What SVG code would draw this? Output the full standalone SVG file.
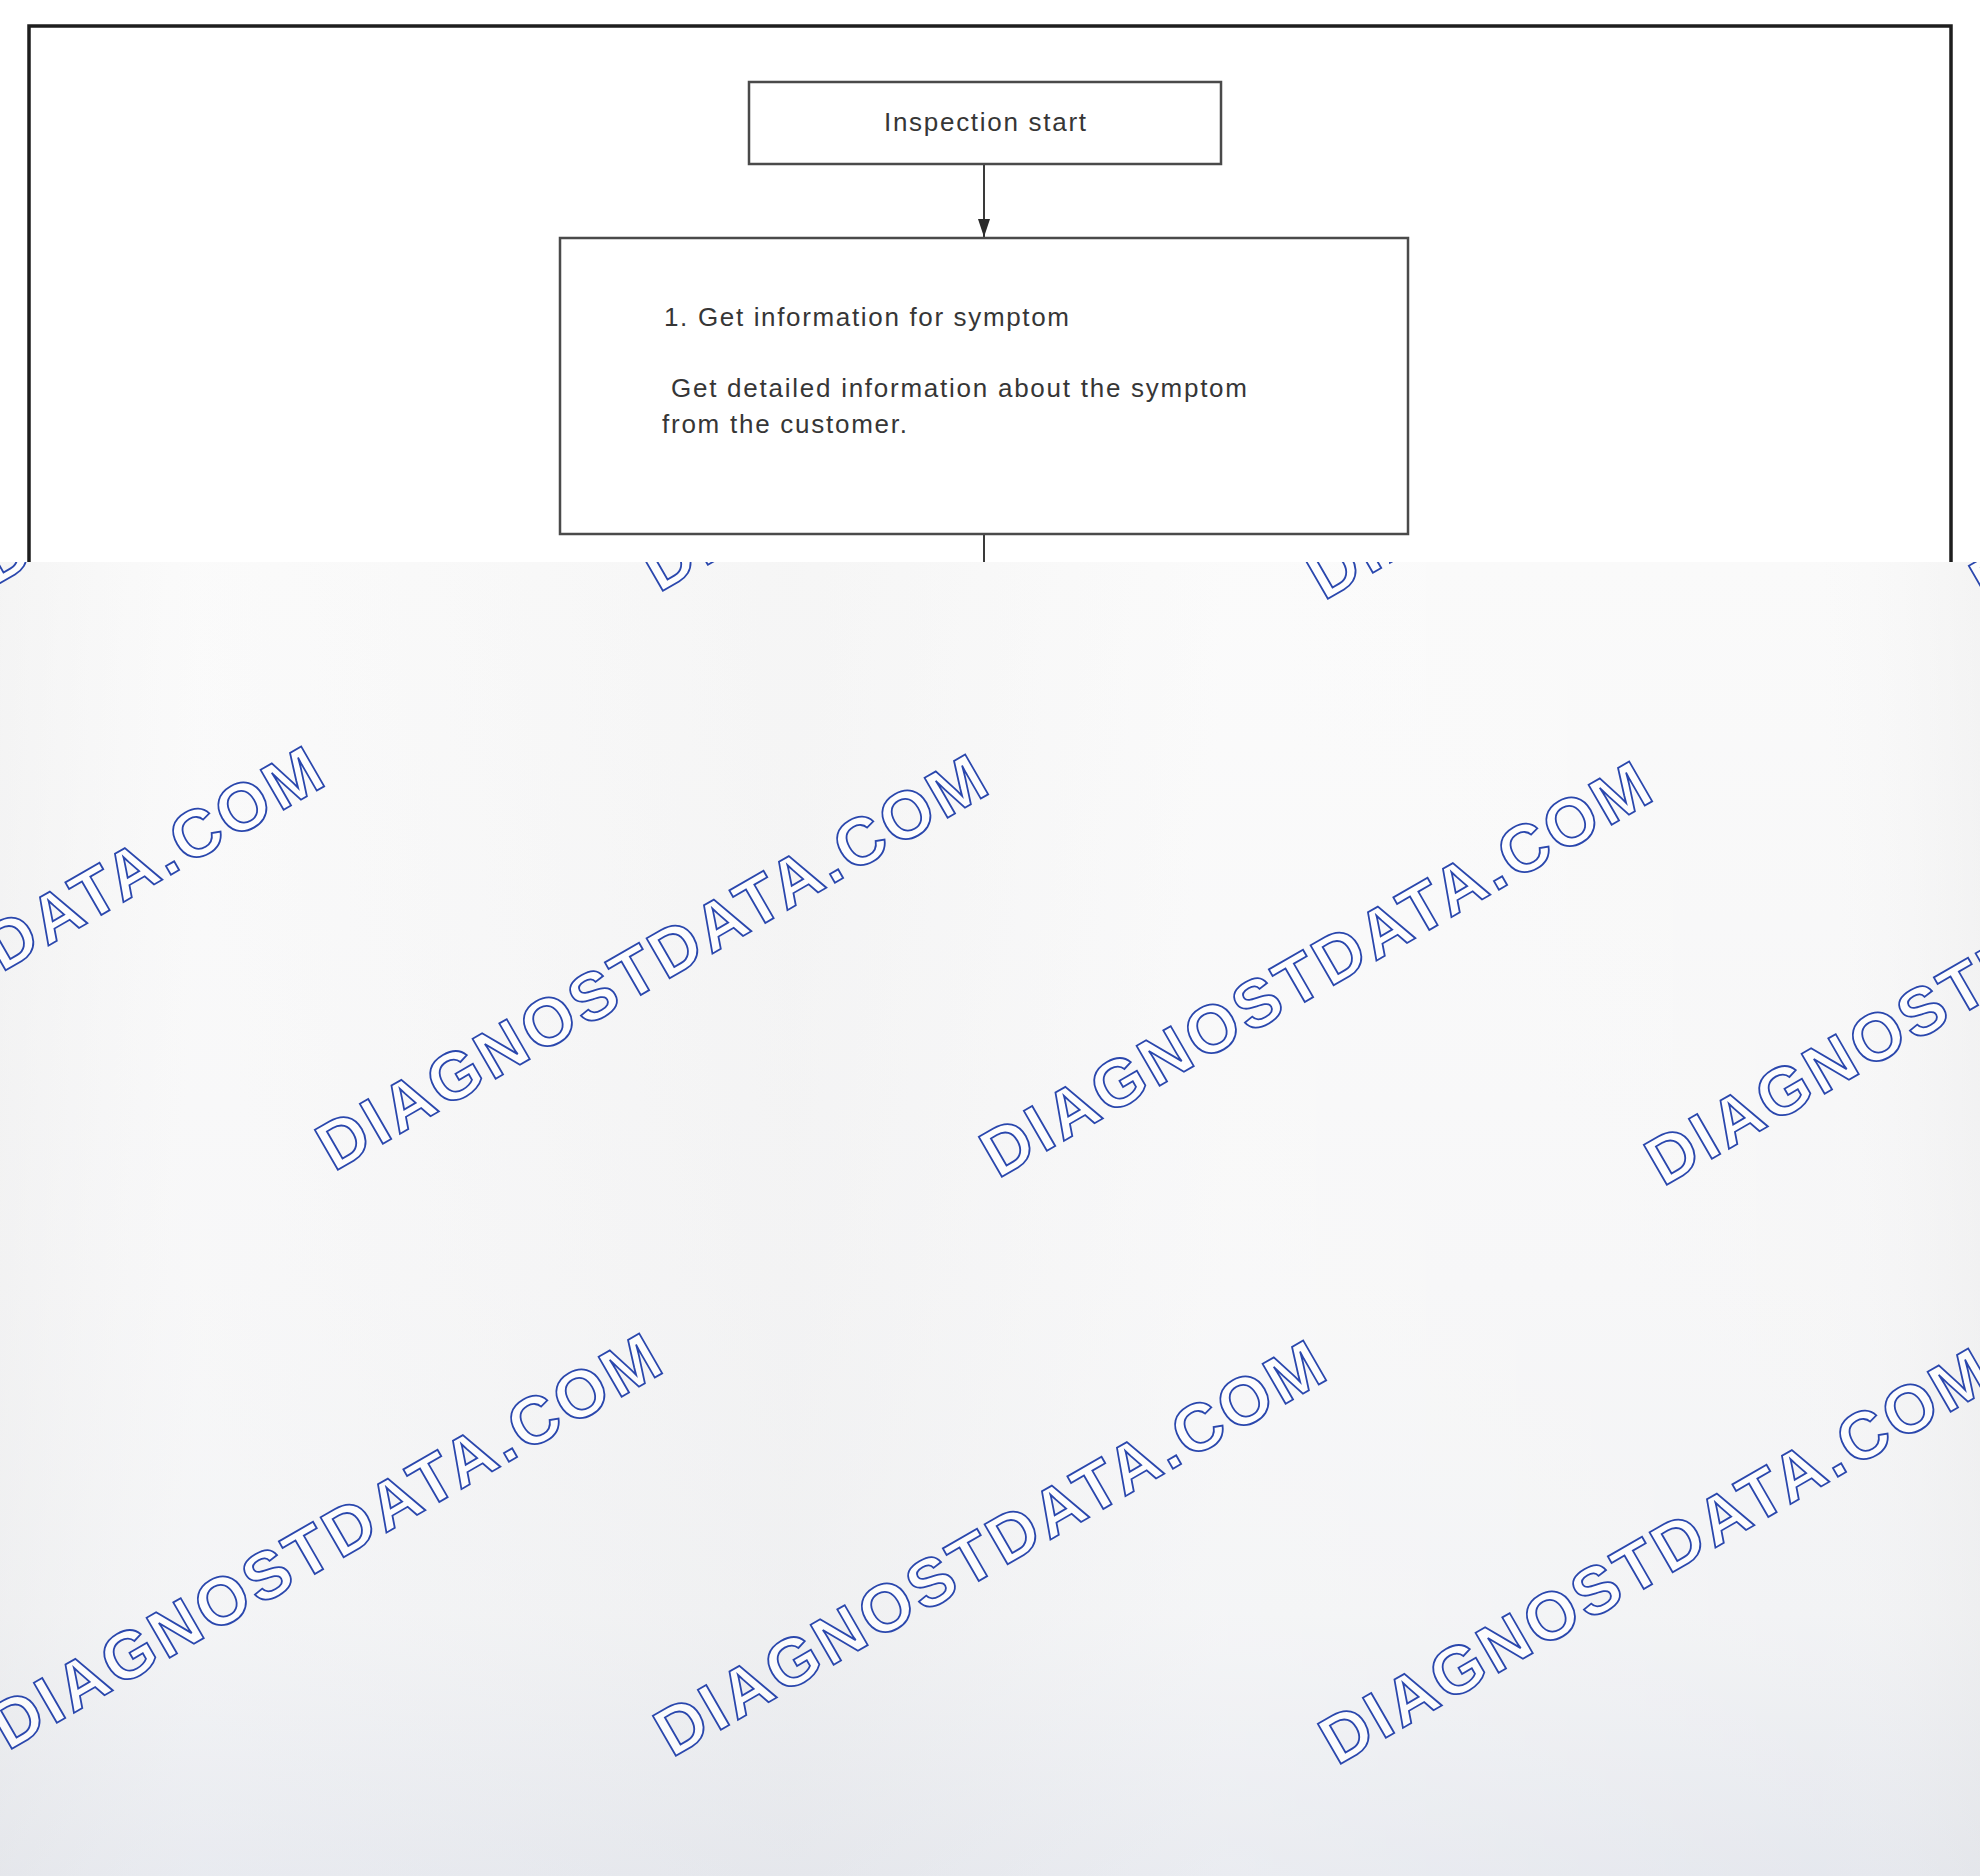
<svg xmlns="http://www.w3.org/2000/svg" width="1980" height="1876" viewBox="0 0 1980 1876">
  <style>
    .box { fill: #ffffff; stroke: #4a4a4a; stroke-width: 2.5; }
    .lbl { font-family: "Liberation Sans", Arial, sans-serif; font-size: 26px; fill: #363636; }
    .conn { stroke: #3a3a3a; stroke-width: 2; fill: none; }
    .frame { stroke: #1e1e1e; stroke-width: 3.5; fill: none; }
    .wm { font-family: "Liberation Sans", Arial, sans-serif; font-weight: bold; font-size: 67px; fill: #ffffff; fill-opacity: 0.75; stroke: #2a47ad; stroke-width: 1.8; }
  </style>
  <defs>
    <marker id="arrow" viewBox="0 0 18 12" refX="18" refY="6" markerWidth="18" markerHeight="12" markerUnits="userSpaceOnUse" orient="auto">
      <path d="M0,0 L18,6 L0,12 Z" fill="#2a2a2a"/>
    </marker>
    <linearGradient id="bgV" x1="0" y1="0" x2="0" y2="1">
      <stop offset="0" stop-color="#f9f9f9"/>
      <stop offset="0.55" stop-color="#f5f5f6"/>
      <stop offset="0.8" stop-color="#f0f1f3"/>
      <stop offset="1" stop-color="#e1e4eb"/>
    </linearGradient>
    <linearGradient id="bgH" x1="0" y1="0" x2="1" y2="0">
      <stop offset="0" stop-color="#ececec" stop-opacity="0.35"/>
      <stop offset="0.1" stop-color="#ffffff" stop-opacity="0.25"/>
      <stop offset="0.4" stop-color="#eeeeee" stop-opacity="0.3"/>
      <stop offset="0.62" stop-color="#ffffff" stop-opacity="0.3"/>
      <stop offset="0.92" stop-color="#ffffff" stop-opacity="0.15"/>
      <stop offset="1" stop-color="#eaeaea" stop-opacity="0.35"/>
    </linearGradient>
    <clipPath id="ovClip">
      <rect x="0" y="562" width="1980" height="1314"/>
    </clipPath>
  </defs>

  <rect x="0" y="0" width="1980" height="1876" fill="#ffffff"/>

  <g id="frame">
    <path class="frame" d="M29,562 L29,26 L1951,26 L1951,562"/>
  </g>

  <g id="connectors">
    <line class="conn" x1="984" y1="164" x2="984" y2="237" marker-end="url(#arrow)"/>
    <line class="conn" x1="984" y1="534" x2="984" y2="562"/>
  </g>

  <g id="node-start">
    <rect class="box" x="749" y="82" width="472" height="82"/>
    <text class="lbl" x="884" y="131" textLength="202" lengthAdjust="spacing">Inspection start</text>
  </g>

  <g id="node-step1">
    <rect class="box" x="560" y="238" width="848" height="296"/>
    <text class="lbl" x="664" y="326" textLength="405" lengthAdjust="spacing">1. Get information for symptom</text>
    <text class="lbl" x="671" y="397" textLength="576" lengthAdjust="spacing">Get detailed information about the symptom</text>
    <text class="lbl" x="662" y="433" textLength="245" lengthAdjust="spacing">from the customer.</text>
  </g>

  <g id="overlay">
    <rect x="0" y="562" width="1980" height="1314" fill="url(#bgV)"/>
    <rect x="0" y="562" width="1980" height="1314" fill="url(#bgH)"/>
    <g clip-path="url(#ovClip)">
      <text class="wm" x="-5" y="586" textLength="760" lengthAdjust="spacing" transform="rotate(-30 -5 586)">DIAGNOSTDATA.COM</text>
      <text class="wm" x="659" y="593" textLength="760" lengthAdjust="spacing" transform="rotate(-30 659 593)">DIAGNOSTDATA.COM</text>
      <text class="wm" x="1324" y="601" textLength="760" lengthAdjust="spacing" transform="rotate(-30 1324 601)">DIAGNOSTDATA.COM</text>
      <text class="wm" x="1988" y="608" textLength="760" lengthAdjust="spacing" transform="rotate(-30 1988 608)">DIAGNOSTDATA.COM</text>

      <text class="wm" x="-330" y="1164" textLength="760" lengthAdjust="spacing" transform="rotate(-30 -330 1164)">DIAGNOSTDATA.COM</text>
      <text class="wm" x="334" y="1172" textLength="760" lengthAdjust="spacing" transform="rotate(-30 334 1172)">DIAGNOSTDATA.COM</text>
      <text class="wm" x="998" y="1179" textLength="760" lengthAdjust="spacing" transform="rotate(-30 998 1179)">DIAGNOSTDATA.COM</text>
      <text class="wm" x="1663" y="1187" textLength="760" lengthAdjust="spacing" transform="rotate(-30 1663 1187)">DIAGNOSTDATA.COM</text>

      <text class="wm" x="-657" y="1743" textLength="760" lengthAdjust="spacing" transform="rotate(-30 -657 1743)">DIAGNOSTDATA.COM</text>
      <text class="wm" x="8" y="1751" textLength="760" lengthAdjust="spacing" transform="rotate(-30 8 1751)">DIAGNOSTDATA.COM</text>
      <text class="wm" x="672" y="1758" textLength="760" lengthAdjust="spacing" transform="rotate(-30 672 1758)">DIAGNOSTDATA.COM</text>
      <text class="wm" x="1337" y="1766" textLength="760" lengthAdjust="spacing" transform="rotate(-30 1337 1766)">DIAGNOSTDATA.COM</text>
    </g>
  </g>
</svg>
